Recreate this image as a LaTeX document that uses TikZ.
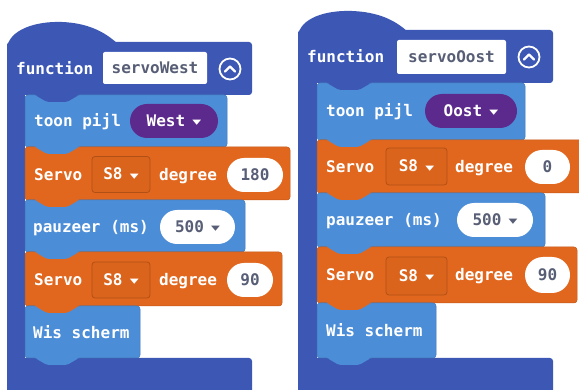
\documentclass[tikz,border=0pt]{standalone}
\usepackage{fontspec}
\usetikzlibrary{shapes.misc}
\newfontfamily\blkfont{DejaVu Sans Mono}
\newfontfamily\symf{DejaVu Sans}
\definecolor{fnblue}{HTML}{3C58B4}
\definecolor{basblue}{HTML}{4C8DD7}
\definecolor{srvor}{HTML}{E2671E}
\definecolor{arrpur}{HTML}{5C2A8C}
\definecolor{pilltxt}{HTML}{575E75}
\newcommand\dd{\hspace{0.45em}\raisebox{1.6pt}{\scalebox{1.05}[0.62]{\symf\fontsize{11}{11}\selectfont ▼}}}
\newcommand\mktab[3]{\fill[#3,rounded corners=2pt] (#1+10,#2-1) -- (#1+10,#2) -- (#1+22,#2+7) -- (#1+42,#2+7) -- (#1+54,#2) -- (#1+54,#2-1) -- cycle;}
\tikzset{
  txtf/.style={font=\blkfont\bfseries\fontsize{16}{16}\selectfont, text height=11pt, text depth=0pt},
  lbl/.style={txtf, anchor=west, inner sep=0pt, text=white},
  pill/.style={txtf, rounded rectangle, fill=white, inner sep=0pt, text=pilltxt, minimum height=34pt},
  arrpill/.style={txtf, rounded rectangle, fill=arrpur, inner sep=0pt, text=white, minimum height=34pt},
  fieldbox/.style={txtf, rectangle, rounded corners=2pt, fill=white, inner sep=0pt, text=pilltxt, minimum height=32pt},
  ddbox/.style={txtf, rectangle, rounded corners=3pt, fill=srvor!97!black, draw=srvor!78!black, line width=0.8pt, inner sep=0pt, text=white, minimum height=36pt},
  bblk/.style={fill=basblue, draw=basblue!85!black, line width=0.5pt, rounded corners=3pt},
  oblk/.style={fill=srvor, draw=srvor!85!black, line width=0.5pt, rounded corners=3pt},
  fnbody/.style={fill=fnblue},
  icon/.style={circle, draw=white, line width=1.8pt, minimum size=21pt, inner sep=0pt},
  chev/.style={draw=white, line width=2.2pt, line cap=round, line join=round}
}
\begin{document}
\begin{tikzpicture}[x=1pt,y=-1pt]
\useasboundingbox (0,0) rectangle (579,390);
\clip (0,0) rectangle (579,390);
\fill[white] (0,0) rectangle (579,390);
% ================= LEFT =================
\fill[fnbody] (7,60) -- (7,48) .. controls (9,30) and (35,21) .. (62,22) .. controls (88,23) and (105,32) .. (118,44) -- cycle;
\fill[fnbody, rounded corners=3pt] (7,42) rectangle (252,95);
\fill[fnbody] (7,44) rectangle (25,400);
\fill[fnbody, rounded corners=3pt] (7,358) rectangle (252,400);
\node[lbl] (Lfn) at (16,69) {function};
\node[fieldbox, minimum width=104pt] (Lname) at (155,68) {servoWest};
\node[icon] (Lic) at (230,69) {};
\draw[chev] ([shift={(-5,2.5)}]Lic.center) -- ([shift={(0,-2.5)}]Lic.center) -- ([shift={(5,2.5)}]Lic.center);
% toon pijl
\filldraw[bblk] (25,95) rectangle (227,147);
\mktab{25}{95}{fnblue}
\node[lbl] (Ltoon) at (34,121) {toon pijl};
\node[arrpill, minimum width=88pt] (Lwest) at (174,121) {West\dd};
% servo 1
\filldraw[oblk] (25,147) rectangle (290,200);
\mktab{25}{147}{basblue}
\node[lbl] (Ls1) at (34,175) {Servo};
\node[ddbox, minimum width=58pt] (Ldd1) at (121,174.5) {S8\dd};
\node[lbl] (Ldeg1) at (159,175) {degree};
\node[pill, minimum width=56pt] (Lv1) at (255,175) {180};
% pauzeer
\filldraw[bblk] (25,200) rectangle (245,252);
\mktab{25}{200}{srvor}
\node[lbl] (Lpz) at (33,227) {pauzeer (ms)};
\node[pill, minimum width=75pt] (Lms) at (197.5,227) {500\dd};
% servo 2
\filldraw[oblk] (25,252) rectangle (282,306);
\mktab{25}{252}{basblue}
\node[lbl] (Ls2) at (34,280) {Servo};
\node[ddbox, minimum width=58pt] (Ldd2) at (121,280) {S8\dd};
\node[lbl] (Ldeg2) at (159,280) {degree};
\node[pill, minimum width=46pt] (Lv2) at (250,280) {90};
% wis scherm
\filldraw[bblk] (25,306) rectangle (140,358);
\mktab{25}{306}{srvor}
\node[lbl] (Lwis) at (33,333) {Wis scherm};
\mktab{25}{358}{basblue}
% ================= RIGHT =================
\fill[fnbody] (298,48) -- (298,36) .. controls (300,18) and (326,10) .. (352,11) .. controls (378,12) and (395,20) .. (408,32) -- cycle;
\fill[fnbody, rounded corners=3pt] (298,30) rectangle (553,83);
\fill[fnbody] (298,32) rectangle (317,400);
\fill[fnbody, rounded corners=3pt] (298,358) rectangle (553,400);
\node[lbl] (Rfn) at (307,57) {function};
\node[fieldbox, minimum width=109pt, minimum height=34pt] (Rname) at (451.5,57) {servoOost};
\node[icon] (Ric) at (529,57) {};
\draw[chev] ([shift={(-5,2.5)}]Ric.center) -- ([shift={(0,-2.5)}]Ric.center) -- ([shift={(5,2.5)}]Ric.center);
% toon pijl
\filldraw[bblk] (317,83) rectangle (525,140);
\mktab{317}{83}{fnblue}
\node[lbl] (Rtoon) at (326,111) {toon pijl};
\node[arrpill, minimum width=92pt] (Roost) at (471,111) {Oost\dd};
% servo 1
\filldraw[oblk] (317,140) rectangle (590,193);
\mktab{317}{140}{basblue}
\node[lbl] (Rs1) at (326,167) {Servo};
\node[ddbox, minimum width=61pt, minimum height=37pt] (Rdd1) at (416.5,166.5) {S8\dd};
\node[lbl] (Rdeg1) at (455,167) {degree};
\node[pill, minimum width=45pt] (Rv1) at (547.5,167) {0};
% pauzeer
\filldraw[bblk] (317,193) rectangle (545,247);
\mktab{317}{193}{srvor}
\node[lbl] (Rpz) at (326,220) {pauzeer (ms)};
\node[pill, minimum width=76pt] (Rms) at (495,220) {500\dd};
% servo 2
\filldraw[oblk] (317,247) rectangle (577,303);
\mktab{317}{247}{basblue}
\node[lbl] (Rs2) at (326,275) {Servo};
\node[ddbox, minimum width=61pt, minimum height=38pt] (Rdd2) at (416.5,276) {S8\dd};
\node[lbl] (Rdeg2) at (455,275) {degree};
\node[pill, minimum width=45pt, minimum height=36pt] (Rv2) at (547.5,275) {90};
% wis scherm
\filldraw[bblk] (317,303) rectangle (436,358);
\mktab{317}{303}{srvor}
\node[lbl] (Rwis) at (326,331) {Wis scherm};
\mktab{317}{358}{basblue}
\end{tikzpicture}
\end{document}
